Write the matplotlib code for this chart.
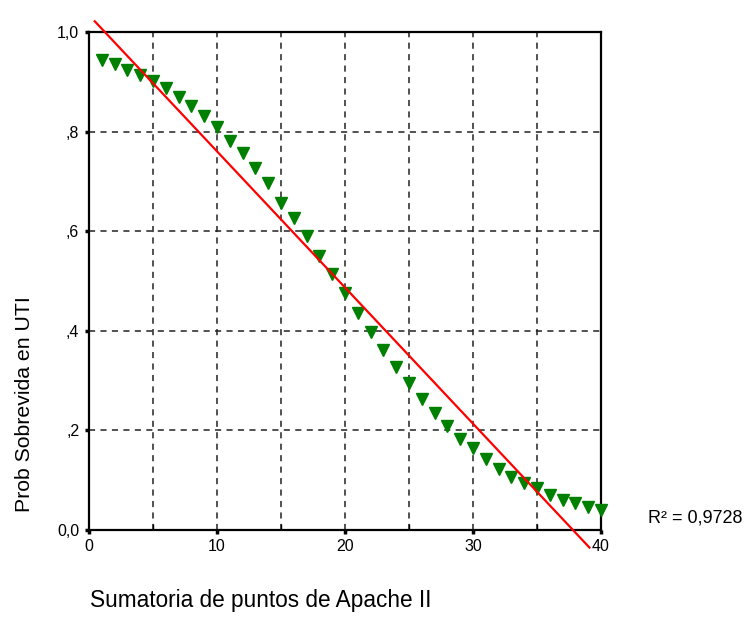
import matplotlib
matplotlib.use("Agg")
import matplotlib.pyplot as plt
import numpy as np
from matplotlib.ticker import FixedLocator

plt.rcParams["font.family"] = ["Liberation Sans", "DejaVu Sans"]

# Apache II score vs observed ICU survival probability
apache = list(range(1, 41))
prob_survival = [
    0.944, 0.935, 0.924, 0.914, 0.902, 0.887, 0.869, 0.851, 0.831, 0.809,
    0.781, 0.757, 0.727, 0.696, 0.656, 0.626, 0.590, 0.550, 0.513, 0.475,
    0.435, 0.397, 0.361, 0.327, 0.294, 0.262, 0.234, 0.208, 0.182, 0.164,
    0.142, 0.121, 0.106, 0.093, 0.083, 0.069, 0.059, 0.053, 0.045, 0.039,
]
fit_x_range = [0.45, 39.1]
y_ticks = [0.0, 0.2, 0.4, 0.6, 0.8, 1.0]
y_tick_labels = ["0,0", ",2", ",4", ",6", ",8", "1,0"]
x_ticks = [0, 10, 20, 30, 40]

x = np.array(apache, dtype=float)
y = np.array(prob_survival)
slope, intercept = np.polyfit(x, y, 1)

fig = plt.figure(figsize=(7.46, 6.18), dpi=100)
ax = fig.add_axes([0.1193, 0.1432, 0.6863, 0.805])

ax.set_xlim(0, 40)
ax.set_ylim(0, 1)

ax.xaxis.set_major_locator(FixedLocator(x_ticks))
ax.xaxis.set_minor_locator(FixedLocator([5, 15, 25, 35]))
ax.yaxis.set_major_locator(FixedLocator(y_ticks))
ax.set_yticklabels(y_tick_labels)

ax.grid(True, which="both", axis="x", color="#222222", linestyle=(0, (4, 3.5)), linewidth=1.1)
ax.grid(True, which="major", axis="y", color="#222222", linestyle=(0, (4, 3.5)), linewidth=1.1)
ax.set_axisbelow(True)

ax.tick_params(axis="both", which="major", direction="out", length=3, width=2.5,
               labelsize=11.5, color="black", pad=4)
ax.tick_params(axis="x", which="minor", direction="in", length=4, width=1)
for s in ax.spines.values():
    s.set_linewidth(1.6)
    s.set_color("black")

# observed survival per score
ax.plot(x, y, linestyle="none", marker="v", markersize=8.5,
        color="#008000", markeredgecolor="#008000", zorder=3, clip_on=False)

# linear fit, drawn past the frame
lx = np.array(fit_x_range)
ax.plot(lx, intercept + slope * lx, color="#ff0000", linewidth=1.6,
        clip_on=False, zorder=4)

fig.text(648 / 746, 1 - 518 / 618, "R\u00b2 = 0,9728", fontsize=13, va="center", ha="left")
fig.text(90 / 746, 1 - 601 / 618, "Sumatoria de puntos de Apache II", fontsize=16.3,
         va="center", ha="left")
fig.text(25 / 746, 1 - 512 / 618, "Prob Sobrevida en UTI", fontsize=15.3,
         rotation=90, va="bottom", ha="center")

fig.savefig("out.png", dpi=100)
